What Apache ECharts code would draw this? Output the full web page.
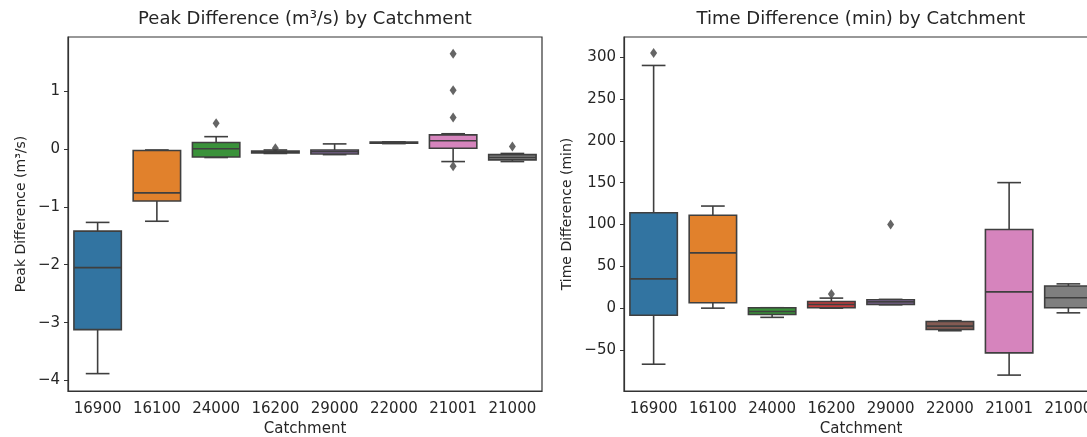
<!DOCTYPE html>
<html><head><meta charset="utf-8">
<script src="https://cdn.jsdelivr.net/npm/echarts@6/dist/echarts.min.js"></script>
<style>html,body{margin:0;padding:0;background:#fff}#c{width:1087px;height:437px}</style>
</head><body><div id="c"></div>
<script>
const catchments = ['16900','16100','24000','16200','29000','22000','21001','21000'];
const boxColors = ['#3274a1','#e1812c','#3a923a','#c03d3e','#9372b2','#845b53','#d684bd','#7f7f7f'];
// each row: [lower whisker, Q1, median, Q3, upper whisker]
const peakStats = [
  [-3.88, -3.12, -2.05, -1.42, -1.27],
  [-1.25, -0.90, -0.76, -0.03, -0.02],
  [-0.15, -0.14, 0.00, 0.11, 0.21],
  [-0.08, -0.07, -0.05, -0.04, -0.02],
  [-0.10, -0.09, -0.05, -0.02, 0.085],
  [0.09, 0.095, 0.105, 0.115, 0.12],
  [-0.22, 0.01, 0.14, 0.24, 0.26],
  [-0.22, -0.19, -0.15, -0.10, -0.08]
];
const peakOutliers = [['24000', 0.44], ['16200', 0.01], ['21001', 1.64], ['21001', 1.01], ['21001', 0.54], ['21001', -0.30], ['21000', 0.04]];
const timeStats = [
  [-67, -8.5, 35, 114, 290],
  [0, 6.5, 66, 111, 122],
  [-11, -7.5, -4, 0.4, 0.5],
  [0, 0.5, 4.4, 8, 12],
  [4, 4.5, 7.5, 10, 10.5],
  [-27, -25.5, -21.5, -16, -15],
  [-80, -53.5, 19.5, 94, 150],
  [-5.6, 0.5, 12.5, 26.5, 29]
];
const timeOutliers = [['16900', 305], ['16200', 17], ['29000', 100]];
const peakTicks = [-4, -3, -2, -1, 0, 1];
const timeTicks = [-50, 0, 50, 100, 150, 200, 250, 300];

const EDGE = '#3f3f3f';
const TXT = '#262626';
const FONT = 'DejaVu Sans';

function boxData(stats) {
  return stats.map((s, i) => [i].concat(s));
}
function renderBox(params, api) {
  const ci = api.value(0);
  const band = api.size([1, 0])[0];
  const bh = band * 0.4, ch = band * 0.2;
  const pMin = api.coord([ci, api.value(1)]);
  const pQ1 = api.coord([ci, api.value(2)]);
  const pMed = api.coord([ci, api.value(3)]);
  const pQ3 = api.coord([ci, api.value(4)]);
  const pMax = api.coord([ci, api.value(5)]);
  const x = pMed[0];
  const ls = { stroke: EDGE, lineWidth: 1.6 };
  return {
    type: 'group',
    children: [
      { type: 'line', shape: { x1: x, y1: pQ1[1], x2: x, y2: pMin[1] }, style: ls },
      { type: 'line', shape: { x1: x, y1: pQ3[1], x2: x, y2: pMax[1] }, style: ls },
      { type: 'line', shape: { x1: x - ch, y1: pMin[1], x2: x + ch, y2: pMin[1] }, style: ls },
      { type: 'line', shape: { x1: x - ch, y1: pMax[1], x2: x + ch, y2: pMax[1] }, style: ls },
      { type: 'rect', shape: { x: x - bh, y: pQ3[1], width: 2 * bh, height: Math.max(pQ1[1] - pQ3[1], 1) },
        style: { fill: boxColors[ci], stroke: EDGE, lineWidth: 1.6 } },
      { type: 'line', shape: { x1: x - bh, y1: pMed[1], x2: x + bh, y2: pMed[1] }, style: ls }
    ]
  };
}

function xAxis(gi) {
  return {
    type: 'category', gridIndex: gi, data: catchments,
    name: 'Catchment', nameLocation: 'middle', nameGap: 31,
    nameTextStyle: { fontSize: 15, color: TXT, fontFamily: FONT },
    axisLine: { onZero: false, lineStyle: { color: '#333', width: 1.2 } },
    axisTick: { alignWithLabel: true, interval: 0, length: 4, lineStyle: { color: '#333' } },
    axisLabel: { interval: 0, fontSize: 15, color: TXT, fontFamily: FONT, margin: 11 },
    splitLine: { show: false }
  };
}
function yAxis(gi, name, min, max, ticks, gap) {
  return {
    type: 'value', gridIndex: gi, min: min, max: max,
    name: name, nameLocation: 'middle', nameGap: gap,
    nameTextStyle: { fontSize: 14, color: TXT, fontFamily: FONT },
    axisLine: { show: true, onZero: false, lineStyle: { color: '#333', width: 1.2 } },
    axisTick: { show: true, length: 4, customValues: ticks, lineStyle: { color: '#333' } },
    axisLabel: { fontSize: 15, color: TXT, fontFamily: FONT, margin: 8, customValues: ticks,
      formatter: v => (v < 0 ? '\u2212' + Math.abs(v) : String(v)) },
    splitLine: { show: false }
  };
}

const chart = echarts.init(document.getElementById('c'), null, { renderer: 'canvas' });
chart.setOption({
  animation: false,
  backgroundColor: '#fff',
  title: [
    { text: 'Peak Difference (m\u00b3/s) by Catchment', left: 305, top: 10, textAlign: 'center', padding: 0,
      textStyle: { fontSize: 18, fontWeight: 'normal', color: TXT, fontFamily: FONT } },
    { text: 'Time Difference (min) by Catchment', left: 861, top: 10, textAlign: 'center', padding: 0,
      textStyle: { fontSize: 18, fontWeight: 'normal', color: TXT, fontFamily: FONT } }
  ],
  grid: [
    { left: 68, top: 37, width: 474, height: 354, outerBoundsMode: 'none', containLabel: false,
      show: true, borderColor: '#333', borderWidth: 1.2, backgroundColor: 'transparent' },
    { left: 624, top: 37, width: 474, height: 354, outerBoundsMode: 'none', containLabel: false,
      show: true, borderColor: '#333', borderWidth: 1.2, backgroundColor: 'transparent' }
  ],
  xAxis: [xAxis(0), xAxis(1)],
  yAxis: [
    yAxis(0, 'Peak Difference (m\u00b3/s)', -4.18, 1.93, peakTicks, 40),
    yAxis(1, 'Time Difference (min)', -99, 324, timeTicks, 50)
  ],
  series: [
    { type: 'custom', xAxisIndex: 0, yAxisIndex: 0, renderItem: renderBox,
      encode: { x: 0, y: [1, 2, 3, 4, 5] }, data: boxData(peakStats), clip: true },
    { type: 'custom', xAxisIndex: 1, yAxisIndex: 1, renderItem: renderBox,
      encode: { x: 0, y: [1, 2, 3, 4, 5] }, data: boxData(timeStats), clip: true },
    { type: 'scatter', xAxisIndex: 0, yAxisIndex: 0, symbol: 'diamond', symbolSize: [7, 10],
      itemStyle: { color: EDGE }, data: peakOutliers, z: 5 },
    { type: 'scatter', xAxisIndex: 1, yAxisIndex: 1, symbol: 'diamond', symbolSize: [7, 10],
      itemStyle: { color: EDGE }, data: timeOutliers, z: 5 }
  ]
});
</script>
</body></html>
